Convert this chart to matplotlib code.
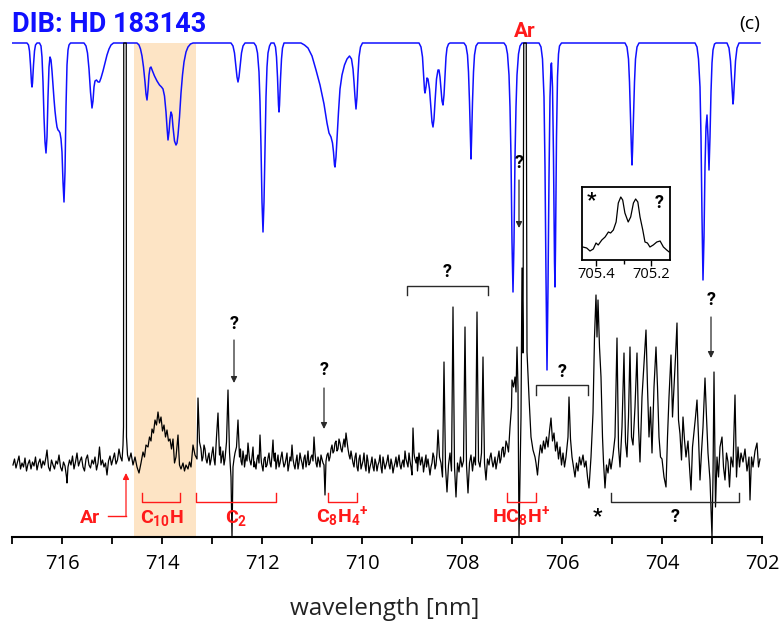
import matplotlib
matplotlib.use('Agg')
import matplotlib.pyplot as plt

plt.rcParams['font.family'] = ['Roboto', 'DejaVu Sans']
plt.rcParams['mathtext.fontset'] = 'custom'
for k in ('rm', 'it', 'bf', 'sf'):
    plt.rcParams['mathtext.' + k] = 'Roboto:bold'

# ---------------- data ----------------
# laboratory spectrum (wavelength nm, intensity arb.)
lab_points = [
    (716.98, 72), (716.95, 78), (716.92, 69), (716.89, 75), (716.86, 81), (716.83, 68),
    (716.80, 74), (716.77, 70), (716.74, 79), (716.71, 66), (716.68, 73), (716.65, 77),
    (716.62, 68), (716.59, 75), (716.56, 71), (716.53, 80), (716.50, 67), (716.47, 74),
    (716.44, 78), (716.41, 69), (716.38, 76), (716.35, 72), (716.32, 80), (716.30, 87),
    (716.27, 70), (716.24, 66), (716.21, 77), (716.18, 72), (716.15, 68), (716.12, 76),
    (716.09, 73), (716.06, 82), (716.03, 70), (716.00, 66), (715.97, 75), (715.94, 71),
    (715.91, 60), (715.90, 54), (715.88, 70), (715.85, 77), (715.82, 72), (715.79, 81),
    (715.76, 68), (715.73, 75), (715.70, 84), (715.67, 71), (715.64, 76), (715.61, 80),
    (715.58, 70), (715.55, 66), (715.52, 78), (715.49, 82), (715.46, 72), (715.43, 69),
    (715.40, 77), (715.37, 73), (715.34, 80), (715.31, 67), (715.28, 74), (715.25, 90),
    (715.22, 72), (715.19, 77), (715.16, 70), (715.13, 74), (715.10, 62), (715.07, 76),
    (715.04, 81), (715.01, 72), (714.98, 78), (714.95, 84), (714.92, 73), (714.89, 77),
    (714.86, 88), (714.83, 80), (714.80, 76), (714.78, 92), (714.77, 110), (714.765, 494),
    (714.715, 494), (714.71, 100), (714.69, 82), (714.66, 76), (714.62, 84), (714.58, 72),
    (714.54, 80), (714.50, 70), (714.46, 64), (714.42, 74), (714.38, 85), (714.35, 80),
    (714.32, 92), (714.28, 90), (714.25, 100), (714.22, 96), (714.20, 108), (714.17, 104),
    (714.14, 117), (714.11, 112), (714.08, 125), (714.05, 114), (714.02, 120), (713.99, 106),
    (713.96, 112), (713.93, 100), (713.90, 107), (713.87, 96), (713.84, 98), (713.81, 88),
    (713.78, 98), (713.75, 74), (713.72, 80), (713.68, 102), (713.65, 72), (713.62, 68),
    (713.58, 74), (713.55, 66), (713.52, 72), (713.48, 68), (713.45, 75), (713.42, 70),
    (713.38, 92), (713.34, 82), (713.30, 78), (713.28, 139), (713.25, 95), (713.22, 88),
    (713.20, 76), (713.18, 80), (713.16, 92), (713.14, 88), (713.12, 78), (713.10, 74),
    (713.08, 80), (713.06, 84), (713.04, 72), (713.02, 77), (713.00, 84), (712.98, 90),
    (712.96, 78), (712.94, 72), (712.91, 100), (712.88, 124), (712.85, 82), (712.83, 90),
    (712.82, 74), (712.80, 80), (712.78, 86), (712.76, 72), (712.74, 78), (712.71, 95),
    (712.68, 147), (712.65, 85), (712.62, 60), (712.60, 0), (712.58, 70), (712.56, 78),
    (712.54, 84), (712.51, 90), (712.48, 117), (712.45, 80), (712.43, 88), (712.42, 76),
    (712.40, 72), (712.38, 86), (712.36, 78), (712.35, 70), (712.32, 82), (712.30, 76),
    (712.28, 94), (712.26, 84), (712.25, 78), (712.22, 72), (712.20, 80), (712.18, 90),
    (712.16, 70), (712.15, 75), (712.12, 68), (712.10, 78), (712.08, 82), (712.06, 74),
    (712.04, 102), (712.02, 80), (712.01, 74), (711.98, 66), (711.96, 78), (711.94, 80),
    (711.92, 70), (711.90, 72), (711.88, 79), (711.86, 84), (711.84, 74), (711.82, 70),
    (711.80, 82), (711.78, 97), (711.765, 80), (711.75, 76), (711.735, 84), (711.72, 68),
    (711.70, 75), (711.68, 82), (711.66, 70), (711.64, 74), (711.62, 80), (711.60, 85),
    (711.58, 76), (711.56, 70), (711.54, 73), (711.52, 78), (711.50, 84), (711.48, 66),
    (711.46, 72), (711.44, 80), (711.42, 76), (711.40, 92), (711.38, 78), (711.36, 72),
    (711.34, 68), (711.32, 76), (711.30, 82), (711.28, 68), (711.26, 74), (711.24, 84),
    (711.22, 78), (711.20, 74), (711.18, 68), (711.16, 79), (711.14, 82), (711.12, 70),
    (711.10, 76), (711.08, 86), (711.06, 72), (711.04, 74), (711.02, 80), (711.00, 82),
    (710.98, 76), (710.96, 100), (710.94, 84), (710.92, 74), (710.90, 70), (710.88, 80),
    (710.86, 76), (710.84, 70), (710.82, 82), (710.80, 78), (710.78, 74), (710.76, 72),
    (710.74, 42), (710.72, 76), (710.70, 82), (710.68, 84), (710.66, 76), (710.64, 80),
    (710.62, 88), (710.60, 92), (710.58, 84), (710.56, 86), (710.54, 94), (710.52, 96),
    (710.50, 86), (710.48, 88), (710.46, 98), (710.44, 94), (710.42, 88), (710.40, 85),
    (710.38, 92), (710.36, 98), (710.34, 90), (710.32, 104), (710.30, 96), (710.28, 88),
    (710.26, 82), (710.24, 78), (710.22, 86), (710.20, 80), (710.18, 74), (710.16, 70),
    (710.14, 80), (710.12, 84), (710.10, 70), (710.08, 66), (710.06, 78), (710.04, 82),
    (710.02, 68), (710.00, 72), (709.98, 76), (709.96, 84), (709.94, 72), (709.92, 66),
    (709.90, 82), (709.88, 76), (709.86, 64), (709.84, 70), (709.82, 74), (709.80, 80),
    (709.78, 70), (709.76, 66), (709.74, 78), (709.72, 74), (709.70, 66), (709.68, 72),
    (709.66, 75), (709.64, 82), (709.62, 70), (709.60, 64), (709.58, 80), (709.56, 74),
    (709.54, 68), (709.52, 72), (709.50, 76), (709.48, 82), (709.46, 72), (709.44, 68),
    (709.42, 78), (709.40, 73), (709.38, 64), (709.36, 70), (709.34, 74), (709.32, 80),
    (709.30, 70), (709.28, 76), (709.26, 82), (709.24, 72), (709.22, 68), (709.20, 74),
    (709.18, 77), (709.16, 70), (709.14, 86), (709.12, 78), (709.10, 74), (709.08, 70),
    (709.06, 84), (709.04, 76), (709.02, 70), (709.00, 62), (708.98, 109), (708.96, 84),
    (708.95, 80), (708.92, 74), (708.90, 80), (708.89, 66), (708.86, 84), (708.84, 76),
    (708.83, 72), (708.80, 80), (708.78, 72), (708.77, 65), (708.74, 76), (708.72, 82),
    (708.71, 70), (708.68, 78), (708.66, 70), (708.64, 62), (708.62, 70), (708.60, 74),
    (708.58, 84), (708.56, 80), (708.54, 68), (708.52, 72), (708.50, 84), (708.48, 107),
    (708.45, 80), (708.42, 74), (708.39, 60), (708.36, 175), (708.33, 70), (708.30, 45),
    (708.27, 72), (708.24, 84), (708.21, 66), (708.18, 230), (708.15, 70), (708.12, 40),
    (708.09, 74), (708.06, 65), (708.03, 80), (708.00, 70), (707.97, 76), (707.94, 210),
    (707.91, 72), (707.88, 44), (707.85, 74), (707.82, 82), (707.79, 66), (707.76, 80),
    (707.73, 72), (707.70, 225), (707.67, 76), (707.64, 70), (707.61, 84), (707.58, 180),
    (707.55, 74), (707.52, 57), (707.49, 78), (707.46, 72), (707.44, 80), (707.42, 84),
    (707.40, 76), (707.38, 70), (707.36, 74), (707.34, 80), (707.32, 68), (707.30, 74),
    (707.28, 80), (707.26, 86), (707.24, 74), (707.22, 78), (707.20, 88), (707.18, 90),
    (707.16, 80), (707.14, 84), (707.12, 96), (707.10, 93), (707.07, 85), (707.04, 110),
    (707.01, 130), (707.00, 157), (706.97, 150), (706.94, 160), (706.92, 145), (706.90, 190),
    (706.88, 150), (706.86, 0), (706.82, 120), (706.80, 269), (706.78, 184), (706.765, 494),
    (706.715, 494), (706.70, 185), (706.66, 140), (706.62, 100), (706.58, 87), (706.54, 80),
    (706.52, 74), (706.49, 62), (706.46, 80), (706.43, 92), (706.40, 84), (706.37, 96),
    (706.34, 88), (706.31, 100), (706.28, 90), (706.25, 106), (706.22, 119), (706.19, 96),
    (706.16, 104), (706.13, 86), (706.10, 95), (706.07, 78), (706.04, 90), (706.01, 72),
    (705.98, 84), (705.95, 70), (705.92, 80), (705.88, 100), (705.86, 140), (705.83, 98),
    (705.80, 80), (705.77, 70), (705.74, 60), (705.71, 74), (705.68, 66), (705.65, 80),
    (705.62, 72), (705.58, 82), (705.55, 70), (705.52, 76), (705.49, 60), (705.46, 49),
    (705.42, 80), (705.38, 124), (705.35, 200), (705.32, 242), (705.30, 200), (705.28, 237),
    (705.25, 190), (705.22, 160), (705.19, 100), (705.17, 75), (705.14, 49), (705.11, 72),
    (705.08, 64), (705.05, 78), (705.02, 68), (704.98, 82), (704.94, 100), (704.90, 199),
    (704.87, 90), (704.84, 70), (704.80, 110), (704.76, 184), (704.73, 95), (704.70, 80),
    (704.67, 120), (704.64, 190), (704.61, 100), (704.58, 92), (704.54, 130), (704.50, 184),
    (704.47, 110), (704.44, 75), (704.40, 140), (704.36, 174), (704.32, 207), (704.29, 150),
    (704.26, 100), (704.23, 130), (704.20, 84), (704.16, 150), (704.12, 190), (704.09, 150),
    (704.06, 100), (704.03, 80), (704.00, 78), (703.96, 60), (703.92, 50), (703.89, 100),
    (703.86, 140), (703.82, 182), (703.79, 120), (703.76, 150), (703.73, 180), (703.70, 214),
    (703.67, 117), (703.64, 103), (703.61, 77), (703.58, 120), (703.55, 97), (703.52, 80),
    (703.48, 96), (703.45, 70), (703.42, 47), (703.39, 90), (703.36, 105), (703.33, 120),
    (703.30, 137), (703.27, 100), (703.24, 57), (703.21, 85), (703.18, 110), (703.14, 159),
    (703.11, 120), (703.08, 84), (703.04, 57), (703.00, 0), (702.98, 60), (702.96, 165),
    (702.93, 30), (702.90, 80), (702.87, 60), (702.84, 90), (702.80, 100), (702.77, 70),
    (702.74, 57), (702.71, 84), (702.68, 75), (702.65, 50), (702.62, 80), (702.58, 70),
    (702.54, 142), (702.51, 60), (702.48, 90), (702.45, 70), (702.42, 84), (702.38, 75),
    (702.34, 88), (702.30, 66), (702.26, 80), (702.24, 37), (702.21, 80), (702.18, 70),
    (702.14, 86), (702.10, 94), (702.07, 70), (702.04, 78),
]
lab_wl = [p[0] for p in lab_points]
lab_int = [p[1] for p in lab_points]

# DIB spectrum of HD 183143 (wavelength nm, relative flux with offset)
dib_points = [
    (716.99, 494), (716.70, 494), (716.67, 492), (716.65, 486), (716.63, 472), (716.61, 454),
    (716.60, 450), (716.59, 454), (716.57, 472), (716.55, 486), (716.53, 492), (716.50, 494),
    (716.45, 494), (716.42, 491), (716.40, 480), (716.38, 455), (716.36, 420), (716.34, 395),
    (716.32, 384), (716.30, 400), (716.28, 440), (716.26, 470), (716.24, 480), (716.22, 477),
    (716.20, 466), (716.18, 452), (716.16, 438), (716.14, 426), (716.12, 417), (716.10, 410),
    (716.08, 407), (716.06, 406), (716.04, 404), (716.02, 398), (716.00, 385), (715.98, 355),
    (715.96, 335), (715.94, 365), (715.92, 430), (715.90, 472), (715.88, 487), (715.86, 492),
    (715.83, 494), (715.56, 494), (715.52, 491), (715.49, 484), (715.46, 468), (715.43, 445),
    (715.40, 429), (715.38, 436), (715.36, 450), (715.34, 456), (715.31, 457), (715.28, 455),
    (715.25, 455), (715.22, 459), (715.18, 466), (715.14, 474), (715.10, 482), (715.06, 488),
    (715.02, 492), (714.97, 494), (714.50, 494), (714.46, 492), (714.43, 488), (714.40, 481),
    (714.37, 470), (714.34, 455), (714.32, 443), (714.30, 437), (714.28, 447), (714.26, 462),
    (714.24, 469), (714.22, 470), (714.19, 466), (714.15, 461), (714.10, 456), (714.05, 452),
    (714.01, 450), (713.98, 448), (713.95, 441), (713.92, 425), (713.90, 410), (713.88, 397),
    (713.86, 405), (713.84, 418), (713.82, 425), (713.80, 422), (713.78, 410), (713.75, 396),
    (713.72, 392), (713.70, 394), (713.68, 402), (713.65, 420), (713.62, 444), (713.59, 462),
    (713.56, 475), (713.52, 485), (713.48, 490), (713.43, 493), (713.38, 494), (712.62, 494),
    (712.58, 491), (712.55, 484), (712.52, 470), (712.50, 460), (712.48, 455), (712.46, 460),
    (712.44, 470), (712.41, 484), (712.38, 491), (712.34, 494), (712.16, 494), (712.12, 491),
    (712.09, 484), (712.06, 465), (712.04, 435), (712.02, 390), (712.00, 335), (711.98, 305),
    (711.96, 335), (711.94, 390), (711.92, 440), (711.90, 470), (711.88, 484), (711.85, 491),
    (711.82, 494), (711.76, 494), (711.73, 490), (711.71, 480), (711.69, 460), (711.67, 432),
    (711.66, 425), (711.65, 432), (711.63, 458), (711.61, 478), (711.59, 489), (711.56, 494),
    (711.22, 494), (711.15, 492), (711.08, 489), (711.00, 481), (710.92, 467), (710.84, 452),
    (710.76, 433), (710.70, 414), (710.66, 404), (710.62, 400), (710.59, 394), (710.57, 385),
    (710.55, 372), (710.54, 370), (710.52, 380), (710.50, 398), (710.47, 425), (710.44, 448),
    (710.40, 462), (710.35, 472), (710.30, 478), (710.25, 481), (710.21, 478), (710.18, 468),
    (710.16, 455), (710.14, 440), (710.12, 428), (710.10, 440), (710.08, 463), (710.06, 480),
    (710.03, 490), (709.99, 494), (708.86, 494), (708.82, 490), (708.79, 480), (708.77, 463),
    (708.75, 447), (708.74, 444), (708.72, 450), (708.70, 459), (708.68, 458), (708.65, 448),
    (708.62, 428), (708.60, 415), (708.58, 410), (708.56, 418), (708.54, 435), (708.51, 458),
    (708.48, 467), (708.46, 467), (708.44, 460), (708.42, 448), (708.40, 436), (708.38, 432),
    (708.36, 442), (708.34, 462), (708.32, 480), (708.30, 489), (708.27, 493), (708.24, 494),
    (707.96, 494), (707.92, 491), (707.89, 482), (707.87, 465), (707.85, 435), (707.83, 395),
    (707.82, 378), (707.81, 395), (707.79, 435), (707.77, 465), (707.75, 482), (707.72, 491),
    (707.68, 494), (707.16, 494), (707.12, 491), (707.09, 483), (707.06, 462), (707.04, 430),
    (707.02, 380), (707.00, 295), (706.98, 245), (706.96, 295), (706.94, 380), (706.92, 430),
    (706.90, 462), (706.87, 483), (706.84, 491), (706.80, 494), (706.46, 494), (706.42, 490),
    (706.39, 478), (706.36, 440), (706.34, 370), (706.32, 260), (706.30, 167), (706.28, 250),
    (706.26, 360), (706.24, 440), (706.22, 472), (706.21, 474), (706.19, 450), (706.17, 380),
    (706.15, 275), (706.14, 250), (706.13, 290), (706.11, 400), (706.09, 460), (706.07, 483),
    (706.05, 491), (706.01, 494), (704.74, 494), (704.70, 490), (704.67, 478), (704.65, 455),
    (704.63, 420), (704.61, 385), (704.60, 372), (704.59, 385), (704.57, 420), (704.55, 455),
    (704.53, 478), (704.50, 490), (704.46, 494), (703.34, 494), (703.30, 490), (703.27, 478),
    (703.24, 450), (703.22, 400), (703.20, 320), (703.18, 257), (703.16, 300), (703.14, 370),
    (703.12, 410), (703.10, 422), (703.08, 400), (703.06, 367), (703.04, 400), (703.02, 445),
    (703.00, 474), (702.98, 487), (702.95, 493), (702.92, 494), (702.70, 494), (702.66, 489),
    (702.63, 476), (702.61, 458), (702.59, 438), (702.58, 433), (702.57, 438), (702.55, 458),
    (702.53, 476), (702.50, 489), (702.46, 494), (702.04, 494),
]
dib_wl = [p[0] for p in dib_points]
dib_flux = [p[1] for p in dib_points]

# inset: zoom of the 705.3 nm feature
inset_points = [
    (705.448, 13), (705.434, 12), (705.422, 9), (705.410, 11), (705.400, 17), (705.392, 15),
    (705.379, 20), (705.367, 23), (705.355, 28), (705.347, 27), (705.337, 30), (705.327, 38),
    (705.319, 57), (705.310, 63), (705.303, 60), (705.295, 47), (705.283, 38), (705.274, 43),
    (705.264, 57), (705.256, 61), (705.248, 58), (705.240, 43), (705.230, 30), (705.222, 18),
    (705.213, 17), (705.204, 13), (705.192, 15), (705.179, 18), (705.167, 19), (705.155, 13),
    (705.143, 10), (705.134, 8),
]
inset_wl = [p[0] for p in inset_points]
inset_int = [p[1] for p in inset_points]

band_c10h = (714.56, 713.32)
major_ticks = [716, 714, 712, 710, 708, 706, 704, 702]
minor_ticks = [717, 715, 713, 711, 709, 707, 705, 703]
inset_major = [705.4, 705.2]
inset_minor = [705.3]

# ---------------- figure ----------------
W, H = 779, 621
fig = plt.figure(figsize=(W / 100, H / 100), dpi=100)
ax = fig.add_axes([12 / W, (H - 537) / H, 750 / W, 537 / H])
ax.set_xlim(717, 702)
ax.set_ylim(0, 537)
ax.patch.set_alpha(0)


def px2wl(x):
    return 717.24 - x / 50.0


def py2h(y):
    return 537 - y


RED = '#ff1a1a'
BLUE = '#1010ff'
DARK = '#2a2a2a'

ax.axvspan(band_c10h[0], band_c10h[1], ymin=0, ymax=494 / 537, color='#fde4c5', lw=0, zorder=0)
ax.plot(dib_wl, dib_flux, color=BLUE, lw=1.1, zorder=2)
ax.plot(lab_wl, lab_int, color='black', lw=0.9, zorder=3)

for s in ('left', 'right', 'top'):
    ax.spines[s].set_visible(False)
ax.spines['bottom'].set_linewidth(1.5)
ax.set_yticks([])
ax.set_xticks(major_ticks)
ax.set_xticks(minor_ticks, minor=True)
ax.set_xticklabels([str(t) for t in major_ticks])
ax.tick_params(axis='x', which='both', direction='out', length=5, width=1.3, pad=7,
               labelsize=14.5, colors='black')
for lab in ax.get_xticklabels():
    lab.set_fontfamily('Open Sans')

# titles
fig.text(12 / W, 1 - 32 / H, 'DIB: HD 183143', color=BLUE, fontsize=19.5, weight='bold',
         ha='left', va='baseline')
fig.text(750 / W, 1 - 24 / H, '(c)', fontsize=14, ha='center', va='center', family='Open Sans')
fig.text(385 / W, 1 - 609 / H, 'wavelength [nm]', fontsize=17.5, ha='center', va='center',
         family='Open Sans', color='#222222')

# top Ar label
ax.text(px2wl(525), py2h(37), 'Ar', color=RED, fontsize=15, weight='bold', ha='center', va='baseline')


def bracket(x1, x2, ybar, ytick, color):
    ax.plot([px2wl(x1), px2wl(x1), px2wl(x2), px2wl(x2)],
            [py2h(ytick), py2h(ybar), py2h(ybar), py2h(ytick)], color=color, lw=1.0, zorder=4)


def arrow(xp, y0, y1, color):
    ax.annotate('', xy=(px2wl(xp), py2h(y1)), xytext=(px2wl(xp), py2h(y0)),
                arrowprops=dict(arrowstyle='-|>', color=color, lw=0.9, mutation_scale=9,
                                shrinkA=0, shrinkB=0), zorder=5)


def qmark(xp, yp, s='?', size=13):
    ax.text(px2wl(xp), py2h(yp), s, fontsize=size, weight='bold', ha='center', va='center', zorder=6)


# red bottom labels
bracket(142, 180, 502, 493, RED)
bracket(196, 276, 502, 493, RED)
bracket(328, 357, 502, 493, RED)
bracket(507, 536, 502, 493, RED)
lab_kw = dict(color=RED, fontsize=14, weight='bold', ha='center', va='baseline')
ax.text(px2wl(90), py2h(523), 'Ar', **lab_kw)
ax.text(px2wl(162), py2h(523), 'C$_{10}$H', **lab_kw)
ax.text(px2wl(236), py2h(523), 'C$_{2}$', **lab_kw)
ax.text(px2wl(342), py2h(523), 'C$_{8}$H$_{4}$$^{+}$', **lab_kw)
ax.text(px2wl(521), py2h(523), 'HC$_{8}$H$^{+}$', **lab_kw)
ax.plot([px2wl(108), px2wl(126)], [py2h(516), py2h(516)], color=RED, lw=1.0)
arrow(126, 516, 473, RED)

# black annotations
bracket(611, 739, 502, 493, DARK)
qmark(597, 517, '*', 15)
qmark(675, 517)
bracket(407, 488, 286, 295, DARK)
qmark(447, 272)
bracket(536, 588, 385, 395, DARK)
qmark(562, 372)
qmark(234, 324); arrow(234, 340, 383, DARK)
qmark(324, 370); arrow(324, 388, 429, DARK)
qmark(519, 163); arrow(519, 180, 228, DARK)
qmark(711, 300); arrow(711, 317, 358, DARK)

# inset
iax = fig.add_axes([582 / W, (H - 260) / H, 88 / W, 73 / H])
iax.plot(inset_wl, inset_int, color='black', lw=0.9)
iax.set_xlim(705.451, 705.131)
iax.set_ylim(0, 73)
iax.set_yticks([])
iax.set_xticks(inset_major)
iax.set_xticks(inset_minor, minor=True)
iax.set_xticklabels(['705.4', '705.2'])
iax.tick_params(axis='x', which='major', length=4, width=1.0, pad=1, labelsize=10.5)
iax.tick_params(axis='x', which='minor', length=3, width=1.0)
for lab in iax.get_xticklabels():
    lab.set_fontfamily('Open Sans')
for s in iax.spines.values():
    s.set_linewidth(1.3)
iax.text(0.11, 0.81, '*', transform=iax.transAxes, fontsize=15, weight='bold', ha='center', va='center')
iax.text(0.875, 0.78, '?', transform=iax.transAxes, fontsize=13, weight='bold', ha='center', va='center')

fig.savefig('out.png', dpi=100)
